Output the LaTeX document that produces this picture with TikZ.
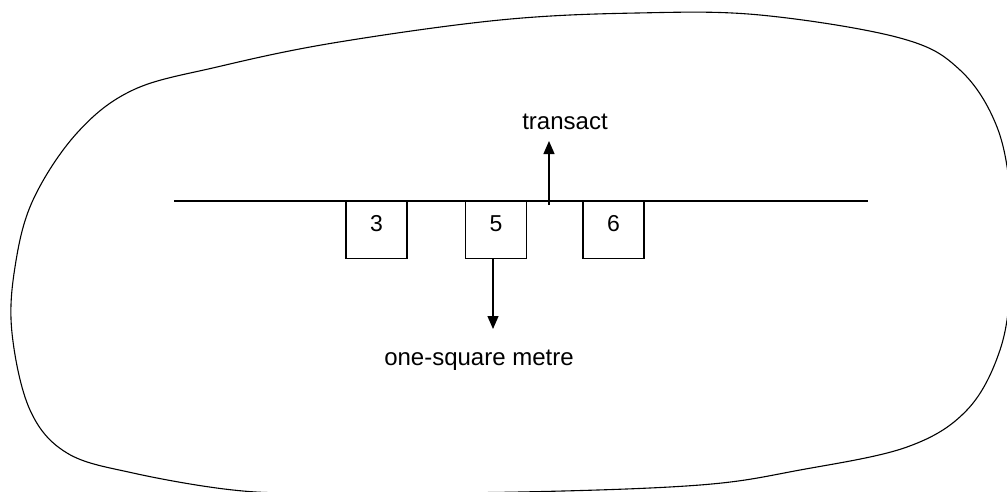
\documentclass[tikz,border=0pt]{standalone}
\usepackage{fontspec}
\setmainfont{Liberation Sans}
\usetikzlibrary{arrows.meta}
\begin{document}
\begin{tikzpicture}[x=1pt,y=-1pt,
  thinline/.style={line width=1.1pt, black},
  sqbox/.style={draw, line width=1.3pt, minimum width=61pt, minimum height=57pt, inner sep=0pt,
                font=\fontsize{23}{27}\selectfont, text height=17pt, text depth=15pt},
  lbl/.style={font=\fontsize{24}{28}\selectfont, inner sep=0pt},
  arr/.style={line width=1.3pt, -{Triangle[width=11pt,length=13pt]}}]
\useasboundingbox (0,0) rectangle (1007,491);
% outline of the area
\draw[thinline] plot[smooth cycle, tension=0.6] coordinates {
  (500,20) (637,13) (760,15) (900,38) (960,70) (997,127) (1011,200) (1011,280)
  (1000,350) (967,410) (907,447) (800,470) (700,485) (520,492) (320,493)
  (233,490) (133,473) (67,453) (30,410) (12,333) (15,267) (33,200) (77,133)
  (133,90) (217,67) (333,43)};
% transect line
\coordinate (lineL) at (174,201);
\coordinate (lineR) at (868,201);
\draw[line width=1.3pt] (lineL) -- (lineR);
% one-square-metre boxes
\node[sqbox, anchor=north] (b3) at (376.5,201) {3};
\node[sqbox, anchor=north] (b5) at (496,201) {5};
\node[sqbox, anchor=north] (b6) at (613.5,201) {6};
% labels
\node[lbl] (trans) at (565,122) {transact};
\node[lbl] (msq) at (479,360) {one-square metre};
% arrows
\coordinate (tbase) at (549,205);
\coordinate (ttip) at (549,141);
\draw[arr] (tbase) -- (ttip);
\coordinate (dtip) at (493,329);
\draw[arr] (b5.south -| dtip) -- (dtip);
\end{tikzpicture}
\end{document}
